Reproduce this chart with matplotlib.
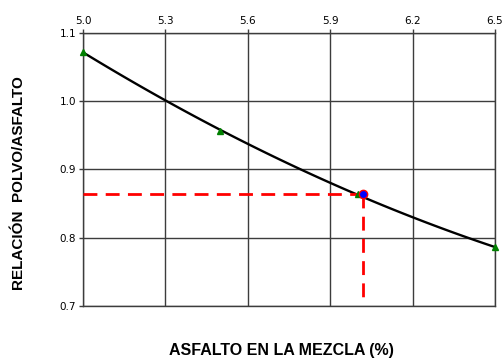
import numpy as np
import matplotlib
matplotlib.use("Agg")
import matplotlib.pyplot as plt

# Dust/asphalt ratio versus asphalt content
asfalto = [5.0, 5.5, 6.0, 6.5]
relacion = [1.072, 0.957, 0.864, 0.786]

# Design point
opt_asfalto = 6.02
opt_relacion = 0.864

x_ticks = [5.0, 5.3, 5.6, 5.9, 6.2, 6.5]
y_ticks = [0.7, 0.8, 0.9, 1.0, 1.1]

fig = plt.figure(figsize=(5.04, 3.58), dpi=100)
ax = fig.add_axes([0.1647, 0.1453, 0.8173, 0.7625])

grid_c = "#3c3c3c"
ax.set_xlim(5.0, 6.5)
ax.set_ylim(0.7, 1.1)
ax.set_xticks(x_ticks)
ax.set_yticks(y_ticks)
ax.set_xticklabels([f"{v:.1f}" for v in x_ticks])
ax.set_yticklabels([f"{v:.1f}" for v in y_ticks])
ax.xaxis.tick_top()
ax.tick_params(axis="both", labelsize=7.5, length=3, width=1, color=grid_c, pad=2)
ax.grid(True, color=grid_c, linewidth=1)
for s in ax.spines.values():
    s.set_color(grid_c)
    s.set_linewidth(1)

# Trend curve through the measured points
coef = np.polyfit(asfalto, relacion, 2)
xs = np.linspace(asfalto[0], asfalto[-1], 100)
ax.plot(xs, np.polyval(coef, xs), color="black", lw=1.7, zorder=3)
ax.plot(asfalto, relacion, linestyle="none", marker="^", ms=4.5,
        color="#008000", zorder=4, clip_on=False)

# Reference lines to the design point
ax.plot([5.0, opt_asfalto], [opt_relacion, opt_relacion], color="#ff0000",
        lw=2, dashes=(5, 3), zorder=3)
ax.plot([opt_asfalto, opt_asfalto], [opt_relacion, 0.706], color="#ff0000",
        lw=2, dashes=(5, 3), zorder=3)
ax.plot([opt_asfalto], [opt_relacion], marker="o", ms=6, color="#0000ff",
        markeredgecolor="#ff0000", markeredgewidth=1, zorder=5)

label_family = ["Liberation Sans", "DejaVu Sans"]
fig.text(0.038, 0.489, "RELACIÓN  POLVO/ASFALTO", rotation=90, ha="center",
         va="center", fontsize=11, fontweight="bold", family=label_family)
fig.text(0.5585, 0.022, "ASFALTO EN LA MEZCLA (%)", ha="center", va="center",
         fontsize=11.5, fontweight="bold", family=label_family)

fig.savefig("out.png", dpi=100)
